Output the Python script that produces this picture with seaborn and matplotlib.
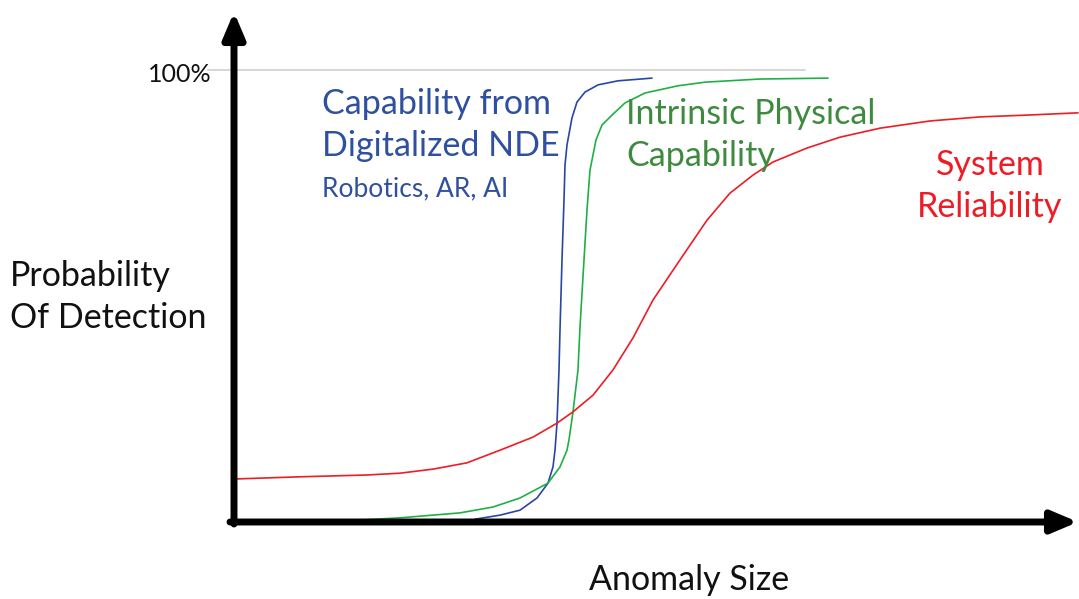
'''
Probability of detection sketch: digitalized NDE vs intrinsic vs system reliability
'''
import matplotlib
matplotlib.use('Agg')
import matplotlib.pyplot as plt
import seaborn as sns
import pandas as pd

sns.set_theme(style='white')
plt.rcParams['font.family'] = ['Lato', 'DejaVu Sans']

# curve values: anomaly size (arbitrary units) and POD (0-1)
blue_x = [2.42, 2.67, 2.87, 3.04, 3.15, 3.20, 3.22, 3.24, 3.26, 3.27, 3.29,
          3.31, 3.32, 3.34, 3.39, 3.44, 3.52, 3.65, 3.85, 4.19]
blue_y = [0.004, 0.013, 0.024, 0.051, 0.084, 0.120, 0.157, 0.217, 0.335,
          0.424, 0.579, 0.712, 0.789, 0.834, 0.894, 0.929, 0.951, 0.967,
          0.976, 0.982]

green_x = [1.10, 1.67, 2.27, 2.60, 2.87, 3.15, 3.27, 3.34, 3.36, 3.40, 3.45,
           3.47, 3.51, 3.54, 3.57, 3.63, 3.69, 3.79, 3.92, 4.12, 4.45, 4.72,
           5.27, 5.95]
green_y = [0.000, 0.007, 0.018, 0.031, 0.051, 0.084, 0.120, 0.157, 0.180,
           0.242, 0.335, 0.430, 0.579, 0.690, 0.778, 0.845, 0.878, 0.900,
           0.927, 0.949, 0.965, 0.973, 0.980, 0.982]

red_x = [0.00, 0.67, 1.34, 1.67, 2.00, 2.34, 2.67, 3.00, 3.24, 3.40, 3.60,
         3.80, 4.00, 4.20, 4.47, 4.74, 4.97, 5.20, 5.40, 5.74, 6.07, 6.47,
         6.97, 7.47, 7.94, 8.45]
red_y = [0.093, 0.098, 0.102, 0.106, 0.115, 0.129, 0.157, 0.186, 0.217,
         0.242, 0.279, 0.335, 0.406, 0.490, 0.579, 0.667, 0.727, 0.767,
         0.796, 0.827, 0.851, 0.871, 0.887, 0.896, 0.900, 0.905]

series_names = ['Digitalized NDE', 'Intrinsic', 'System']
line_colors = ['#2747A3', '#1FB045', '#EE1C25']

df = pd.concat([
    pd.DataFrame({'size': blue_x, 'pod': blue_y, 'curve': series_names[0]}),
    pd.DataFrame({'size': green_x, 'pod': green_y, 'curve': series_names[1]}),
    pd.DataFrame({'size': red_x, 'pod': red_y, 'curve': series_names[2]}),
])

# figure 1079 x 599 px, one axes filling it; data origin sits at pixel (233, 521)
fig = plt.figure(figsize=(10.79, 5.99), dpi=100)
ax = fig.add_axes([0, 0, 1, 1])
ax.set_xlim(-2.33, 8.46)
ax.set_ylim(-78 / 451, 521 / 451)
ax.axis('off')


def px(x, y):
    '''pixel position -> data position'''
    return (x - 233) / 100, (521 - y) / 451


# 100% reference line
ax.plot([px(208, 0)[0], px(805, 0)[0]], [1, 1], color='#D0D0D0', lw=1.2, zorder=1)

sns.lineplot(data=df, x='size', y='pod', hue='curve', palette=line_colors,
             hue_order=series_names, sort=False, estimator=None, lw=1.2,
             legend=False, ax=ax, zorder=3)

# axis arrows
arrow = dict(arrowstyle='-|>,head_length=1.3,head_width=0.55', color='black',
             lw=5, shrinkA=0, shrinkB=0)
ax.annotate('', xy=px(234, 12), xytext=px(234, 524), arrowprops=arrow)
ax.annotate('', xy=px(1078, 522), xytext=px(230, 522), arrowprops=arrow)

# labels
big = 24.5
gap = 1.42
ax.text(*px(212, 75), '100%', ha='right', va='center', fontsize=18, color='#111111')
ax.text(*px(10, 297), 'Probability\nOf Detection', ha='left', va='center',
        fontsize=big, color='#111111', linespacing=gap)
ax.text(*px(689, 580), 'Anomaly Size', ha='center', va='center', fontsize=big,
        color='#111111')
ax.text(*px(322, 125), 'Capability from\nDigitalized NDE', ha='left', va='center',
        fontsize=big, color='#2F50A0', linespacing=gap)
ax.text(*px(322, 189), 'Robotics, AR, AI', ha='left', va='center', fontsize=19,
        color='#2F50A0')
ax.text(*px(626, 135), 'Intrinsic Physical\nCapability', ha='left', va='center',
        fontsize=big, color='#3E8A3E', linespacing=gap)
ax.text(*px(990, 186), 'System\nReliability', ha='center', va='center',
        fontsize=big, color='#EE1C25', linespacing=gap)

fig.savefig('out.png', dpi=100, facecolor='white')
